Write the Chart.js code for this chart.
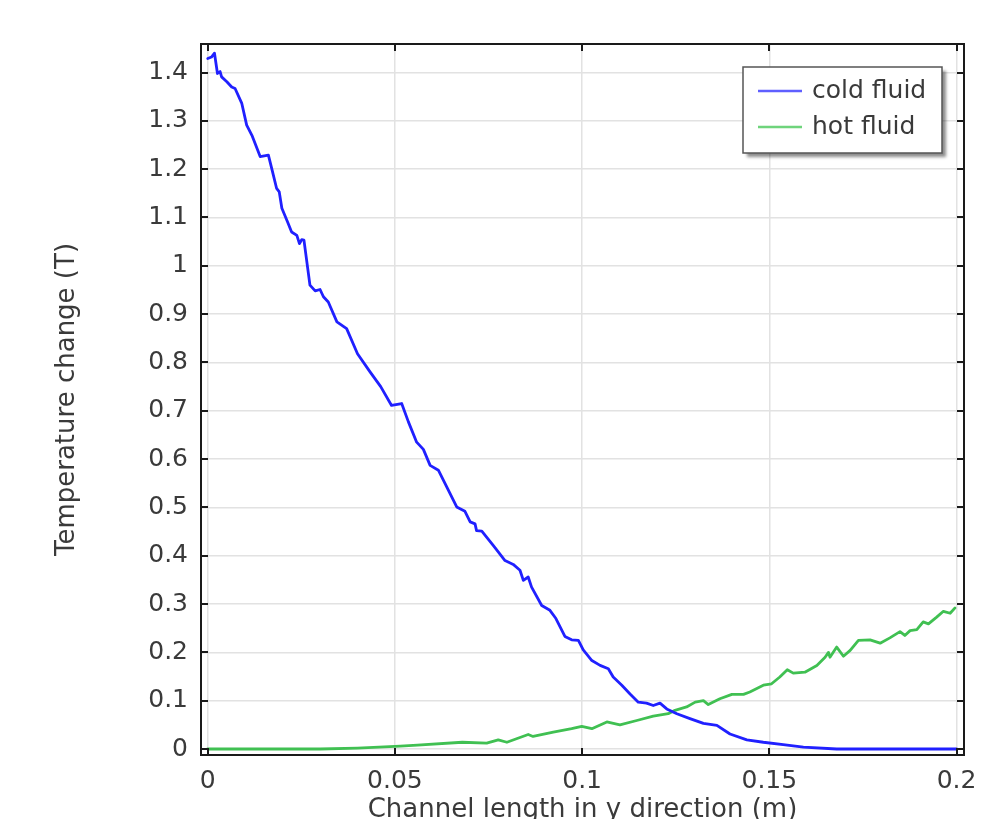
<!DOCTYPE html>
<html>
<head>
<meta charset="utf-8">
<title>Temperature change along channel</title>
<script src="https://cdn.jsdelivr.net/npm/chart.js@4.4.1/dist/chart.umd.min.js"></script>
<style>
  html, body { margin: 0; padding: 0; background: #fff; }
  #plot { display: block; }
</style>
</head>
<body>
<canvas id="plot" width="997" height="819"></canvas>
<script>
// values
const coldX = [0, 0.0010, 0.0018, 0.0026, 0.0033, 0.0037, 0.0051, 0.0064, 0.0073, 0.0091,
  0.0104, 0.0118, 0.0140, 0.0162, 0.0171, 0.0184, 0.0191, 0.0198, 0.0213, 0.0224,
  0.0238, 0.0245, 0.0251, 0.0257, 0.0273, 0.0287, 0.0300, 0.0309, 0.0322, 0.0345,
  0.0371, 0.0400, 0.0434, 0.0462, 0.0491, 0.0518, 0.0536, 0.0558, 0.0576, 0.0594,
  0.0616, 0.0643, 0.0665, 0.0687, 0.0701, 0.0714, 0.0718, 0.0732, 0.0763, 0.0794,
  0.0816, 0.0834, 0.0843, 0.0856, 0.0865, 0.0892, 0.0914, 0.0930, 0.0954, 0.0972,
  0.0990, 0.1003, 0.1026, 0.1048, 0.1070, 0.1083, 0.1106, 0.1128, 0.1150, 0.1172,
  0.1190, 0.1208, 0.1226, 0.1253, 0.1288, 0.1324, 0.1360, 0.1395, 0.1440, 0.1484,
  0.1537, 0.1591, 0.1680, 0.1800, 0.2000];
const coldT = [1.429, 1.432, 1.440, 1.398, 1.402, 1.391, 1.381, 1.370, 1.367, 1.336,
  1.291, 1.270, 1.226, 1.229, 1.201, 1.160, 1.153, 1.119, 1.091, 1.070,
  1.063, 1.046, 1.054, 1.053, 0.960, 0.948, 0.951, 0.936, 0.925, 0.884,
  0.870, 0.818, 0.780, 0.750, 0.711, 0.715, 0.677, 0.635, 0.620, 0.587,
  0.577, 0.535, 0.501, 0.492, 0.470, 0.466, 0.452, 0.451, 0.421, 0.390,
  0.382, 0.370, 0.349, 0.356, 0.335, 0.297, 0.287, 0.270, 0.233, 0.226,
  0.225, 0.205, 0.183, 0.173, 0.166, 0.149, 0.132, 0.114, 0.097, 0.095,
  0.090, 0.095, 0.083, 0.073, 0.063, 0.053, 0.049, 0.031, 0.019, 0.014,
  0.009, 0.004, 0.000, 0.000, 0.000];

const hotX = [0, 0.0300, 0.0400, 0.0514, 0.0560, 0.0680, 0.0745, 0.0776, 0.0799, 0.0856,
  0.0869, 0.0923, 0.0972, 0.0999, 0.1026, 0.1066, 0.1101, 0.1146, 0.1190, 0.1230,
  0.1248, 0.1279, 0.1302, 0.1324, 0.1337, 0.1368, 0.1400, 0.1431, 0.1448, 0.1484,
  0.1506, 0.1528, 0.1548, 0.1564, 0.1595, 0.1627, 0.1649, 0.1658, 0.1662, 0.1680,
  0.1698, 0.1716, 0.1738, 0.1769, 0.1796, 0.1822, 0.1849, 0.1862, 0.1876, 0.1894,
  0.1911, 0.1925, 0.1947, 0.1965, 0.1983, 0.1996];
const hotT = [0.000, 0.000, 0.002, 0.006, 0.008, 0.014, 0.012, 0.019, 0.014, 0.030,
  0.026, 0.035, 0.042, 0.047, 0.042, 0.056, 0.050, 0.059, 0.068, 0.073,
  0.080, 0.087, 0.097, 0.100, 0.092, 0.104, 0.113, 0.113, 0.118, 0.132,
  0.135, 0.149, 0.164, 0.157, 0.159, 0.173, 0.190, 0.200, 0.190, 0.211,
  0.192, 0.204, 0.225, 0.226, 0.219, 0.230, 0.243, 0.235, 0.245, 0.247,
  0.263, 0.259, 0.273, 0.285, 0.281, 0.292];

const xTicks = [0, 0.05, 0.1, 0.15, 0.2];
const yTicks = [0, 0.1, 0.2, 0.3, 0.4, 0.5, 0.6, 0.7, 0.8, 0.9, 1, 1.1, 1.2, 1.3, 1.4];
const seriesNames = ['cold fluid', 'hot fluid'];
const seriesColors = ['#2020ff', '#40c052'];
const legendColors = ['#5f5fff', '#6fd47c'];

const FONT = 'DejaVu Sans';
const TEXT = '#3a3a3a';

function toPoints(xs, ys) {
  return xs.map((x, i) => ({x: x, y: ys[i]}));
}

// frame round the plot with short inward ticks on all four sides, plus the legend box
const framePlugin = {
  id: 'frame',
  afterDatasetsDraw(chart) {
    const {ctx, chartArea: a, scales} = chart;
    const tl = 7;
    ctx.save();
    ctx.strokeStyle = '#1a1a1a';
    ctx.lineWidth = 2;
    ctx.beginPath();
    xTicks.forEach(v => {
      const px = Math.round(scales.x.getPixelForValue(v));
      ctx.moveTo(px, a.bottom); ctx.lineTo(px, a.bottom - tl);
      ctx.moveTo(px, a.top); ctx.lineTo(px, a.top + tl);
    });
    yTicks.forEach(v => {
      const py = Math.round(scales.y.getPixelForValue(v));
      ctx.moveTo(a.left, py); ctx.lineTo(a.left + tl, py);
      ctx.moveTo(a.right, py); ctx.lineTo(a.right - tl, py);
    });
    ctx.stroke();
    ctx.strokeRect(a.left, a.top, a.right - a.left, a.bottom - a.top);

    // legend
    const w = 199, h = 86;
    const lx = a.right - 22 - w, ly = a.top + 23;
    ctx.save();
    ctx.shadowColor = 'rgba(0,0,0,0.45)';
    ctx.shadowOffsetX = 4;
    ctx.shadowOffsetY = 4;
    ctx.shadowBlur = 3;
    ctx.fillStyle = '#fff';
    ctx.fillRect(lx, ly, w, h);
    ctx.restore();
    ctx.strokeStyle = '#555';
    ctx.lineWidth = 1.5;
    ctx.strokeRect(lx, ly, w, h);
    ctx.font = '25px "' + FONT + '"';
    ctx.textBaseline = 'middle';
    ctx.textAlign = 'left';
    seriesNames.forEach((name, i) => {
      const y = ly + 24 + i * 36;
      ctx.strokeStyle = legendColors[i];
      ctx.lineWidth = 2.5;
      ctx.beginPath();
      ctx.moveTo(lx + 15, y); ctx.lineTo(lx + 59, y);
      ctx.stroke();
      ctx.fillStyle = TEXT;
      ctx.fillText(name, lx + 69, y);
    });
    ctx.restore();
  },
};

const chart = new Chart(document.getElementById('plot'), {
  type: 'line',
  data: {
    datasets: [
      {label: seriesNames[0], data: toPoints(coldX, coldT), borderColor: seriesColors[0]},
      {label: seriesNames[1], data: toPoints(hotX, hotT), borderColor: seriesColors[1]},
    ],
  },
  options: {
    responsive: false,
    animation: false,
    devicePixelRatio: 1,
    layout: {padding: {top: 44, right: 33, bottom: 0, left: 0}},
    elements: {
      line: {borderWidth: 2.8, tension: 0, borderJoinStyle: 'round', borderCapStyle: 'round'},
      point: {radius: 0},
    },
    plugins: {
      legend: {display: false},
      tooltip: {enabled: false},
    },
    scales: {
      x: {
        type: 'linear',
        min: -0.0018,
        max: 0.202,
        afterBuildTicks: s => { s.ticks = xTicks.map(v => ({value: v})); },
        afterFit: s => { s.height = 64; },
        grid: {color: '#e2e2e2', lineWidth: 1.5, drawTicks: false},
        border: {display: false},
        ticks: {
          padding: 11,
          maxRotation: 0,
          autoSkip: false,
          color: TEXT,
          font: {family: FONT, size: 25},
          callback: v => String(Math.round(v * 100) / 100),
        },
        title: {
          display: true,
          text: 'Channel length in y direction (m)',
          color: TEXT,
          font: {family: FONT, size: 26, lineHeight: 1},
          padding: {top: 0, bottom: -4},
        },
      },
      y: {
        min: -0.0124,
        max: 1.459,
        afterBuildTicks: s => { s.ticks = yTicks.map(v => ({value: v})); },
        afterFit: s => { s.width = 201; },
        grid: {color: '#e2e2e2', lineWidth: 1.5, drawTicks: false},
        border: {display: false},
        ticks: {
          padding: 13,
          autoSkip: false,
          color: TEXT,
          font: {family: FONT, size: 25},
          callback: v => String(Math.round(v * 10) / 10),
        },
        title: {
          display: true,
          text: 'Temperature change (T)',
          color: TEXT,
          font: {family: FONT, size: 26, lineHeight: 1},
          padding: {top: 54, bottom: 0},
        },
      },
    },
  },
  plugins: [framePlugin],
});
</script>
</body>
</html>
